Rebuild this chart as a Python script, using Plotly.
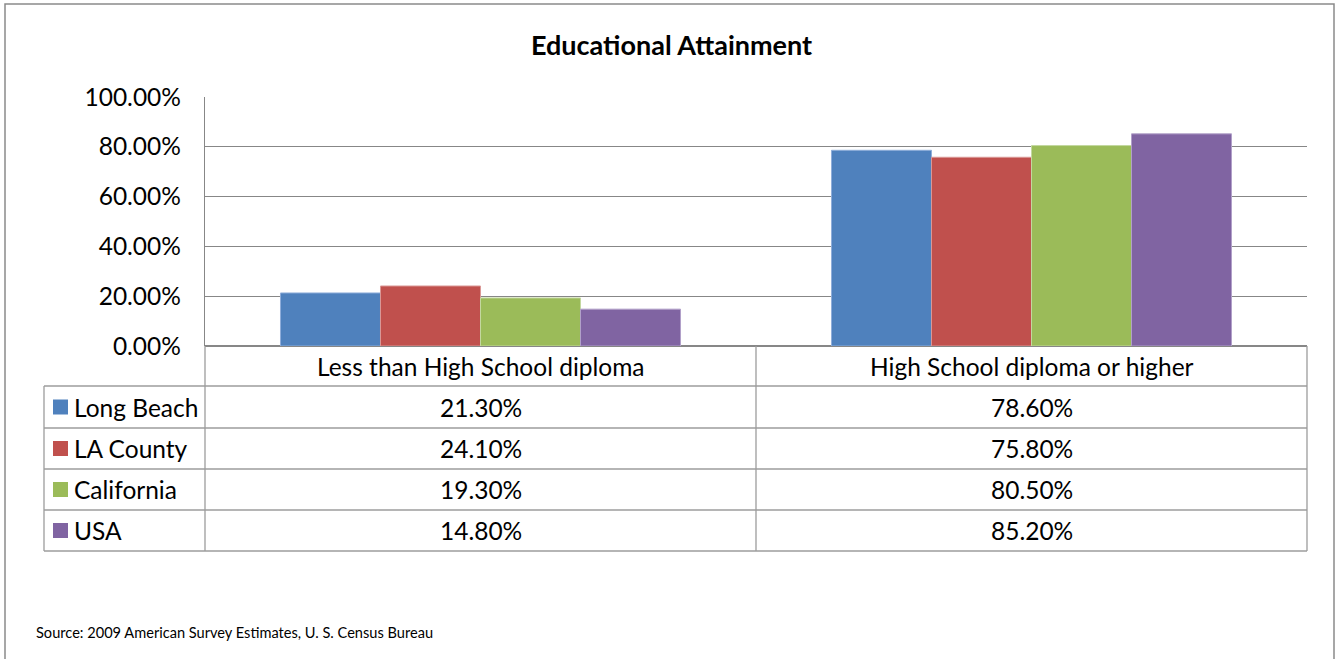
import plotly.graph_objects as go

# Educational attainment, share of population 25+ (percent)
categories = ["Less than High School diploma", "High School diploma or higher"]
series_names = ["Long Beach", "LA County", "California", "USA"]
long_beach = [21.3, 78.6]
la_county = [24.1, 75.8]
california = [19.3, 80.5]
usa = [14.8, 85.2]
y_ticks = [0, 20, 40, 60, 80, 100]
y_tick_labels = [f"{v:.2f}%" for v in y_ticks]

series_values = [long_beach, la_county, california, usa]
colors = ["#4F81BD", "#C0504D", "#9BBB59", "#8064A2"]
edge_colors = ["#8FAEDA", "#DA9896", "#C3D89F", "#B1A0C9"]

W, H = 1336, 659
PL, PR, PT, PB = 205, 1307, 97, 346  # plot area in pixels

FONT = "Lato"
BODY = 24.5
GRID = "#878787"
TABLE = "#9C9C9C"


def fx(x):
    return (x - PL) / (PR - PL)


def fy(y):
    return (PB - y) / (PB - PT)


fig = go.Figure()
for name, vals, c, ec in zip(series_names, series_values, colors, edge_colors):
    fig.add_trace(go.Bar(
        x=categories, y=vals, name=name,
        marker=dict(color=c, line=dict(color=ec, width=1)),
        showlegend=False, hoverinfo="skip",
    ))

shapes = []
annotations = []


def hline(x0, x1, y, color=TABLE, w=1.3):
    shapes.append(dict(type="line", xref="paper", yref="paper",
                       x0=fx(x0), x1=fx(x1), y0=fy(y), y1=fy(y),
                       line=dict(color=color, width=w)))


def vline(x, y0, y1, color=TABLE, w=1.3):
    shapes.append(dict(type="line", xref="paper", yref="paper",
                       x0=fx(x), x1=fx(x), y0=fy(y0), y1=fy(y1),
                       line=dict(color=color, width=w)))


def text(x, y, s, size=BODY, anchor="center", bold=False):
    annotations.append(dict(
        xref="paper", yref="paper", x=fx(x), y=fy(y),
        text=f"<b>{s}</b>" if bold else s, showarrow=False,
        xanchor=anchor, yanchor="middle",
        font=dict(family=FONT, size=size, color="#000000"),
    ))


# outer chart frame
shapes.append(dict(type="rect", xref="paper", yref="paper",
                   x0=fx(5), x1=fx(1334), y0=fy(4), y1=fy(700),
                   line=dict(color="#8A8A8A", width=1.5)))

# data table grid
row_lines = [386, 428, 469, 510, 551]
for y in row_lines:
    hline(44, PR, y)
vline(44, 386, 551)
vline(PL, PB, 551)
vline(756, PB, 551)
vline(PR, PB, 551)

col_centers = [480.5, 1031.5]
for cx, cat in zip(col_centers, categories):
    text(cx, 366, cat)

row_centers = [407, 448.5, 489.5, 530.5]
for ry, name, vals, c in zip(row_centers, series_names, series_values, colors):
    shapes.append(dict(type="rect", xref="paper", yref="paper",
                       x0=fx(53), x1=fx(68), y0=fy(ry - 7.5), y1=fy(ry + 7.5),
                       line=dict(width=0), fillcolor=c))
    text(72, ry, name, anchor="left")
    for cx, v in zip(col_centers, vals):
        text(cx, ry, f"{v:.2f}%")

# title and source note
text(671, 44, "Educational Attainment", size=27, bold=True)
text(34, 632, "Source: 2009 American Survey Estimates, U. S. Census Bureau",
     size=14.6, anchor="left")

fig.update_layout(
    width=W, height=H,
    margin=dict(l=PL, r=W - PR, t=PT, b=H - PB, pad=0),
    paper_bgcolor="white", plot_bgcolor="white",
    barmode="group", bargap=0.274, bargroupgap=0,
    shapes=shapes, annotations=annotations,
    xaxis=dict(showticklabels=False, showgrid=False, showline=False,
               zeroline=False, fixedrange=True),
    yaxis=dict(range=[0, 100], tickvals=y_ticks, ticktext=y_tick_labels,
               showgrid=True, gridcolor=GRID, gridwidth=1.2,
               showline=True, linecolor=GRID, linewidth=1.3,
               zeroline=True, zerolinecolor=GRID, zerolinewidth=1.5,
               ticks="", ticklabelstandoff=18,
               tickfont=dict(family=FONT, size=BODY, color="#000000"),
               fixedrange=True),
    font=dict(family=FONT),
)

fig.write_html("out.html")
